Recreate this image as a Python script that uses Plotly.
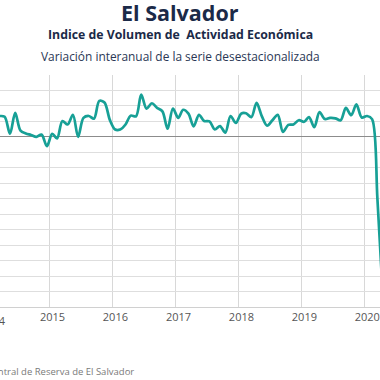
import pandas as pd
import plotly.graph_objects as go

# Monthly dates (Mar 2014 .. May 2020)
months = pd.date_range("2014-03-01", "2020-05-01", freq="MS")

# Year-over-year variation (%) of the seasonally adjusted IVAE
values = [
    2.7, 2.7, 2.6, 0.4, 3.1, 0.8, 0.45, 0.25, 0.0, 0.3,                 # 2014 Mar-Dec
    -1.2, 0.4, -0.2, 2.05, 1.6, 2.85, 0.0, 2.45, 2.7, 2.35, 4.65, 4.45,  # 2015
    2.2, 0.95, 0.95, 1.6, 2.75, 2.65, 5.45, 3.65, 4.35, 3.75, 3.3, 1.05, # 2016
    3.65, 2.45, 3.5, 3.0, 1.35, 2.85, 2.05, 2.0, 0.95, 1.4, 0.55, 2.7,   # 2017
    1.8, 3.0, 3.05, 2.55, 4.4, 2.65, 1.45, 2.15, 2.85, 0.65, 1.55, 1.6,  # 2018
    2.15, 1.95, 2.55, 1.25, 3.2, 2.3, 2.45, 2.4, 2.15, 3.75, 2.8, 4.2,   # 2019
    2.5, 2.7, 2.3, -8.0, -20.0,                                          # 2020 Jan-May
]

year_ticks = ["2015-01-16", "2016-01-16", "2017-01-16", "2018-01-16", "2019-01-16", "2020-01-16"]
year_labels = ["2015", "2016", "2017", "2018", "2019", "2020"]

title = "El Salvador"
subtitle = "Indice de Volumen de  Actividad Económica"
subtitle2 = "Variación interanual de la serie desestacionalizada"
source = "Fuente: Banco Central de Reserva de El Salvador"

FONT = "Open Sans"
W, H = 380, 380
TOP, BOTTOM = 75, 307          # plot area in pixels
PH = BOTTOM - TOP


def py(pix):
    """pixel row -> paper y"""
    return (BOTTOM - pix) / PH


fig = go.Figure()
fig.add_trace(go.Scatter(
    x=months, y=values, mode="lines",
    line=dict(color="#17a096", width=2.7, shape="spline", smoothing=0.9),
    hoverinfo="skip", showlegend=False,
))

fig.update_layout(
    width=W, height=H,
    margin=dict(l=0, r=0, t=TOP, b=H - BOTTOM, autoexpand=False),
    paper_bgcolor="white", plot_bgcolor="white",
    font=dict(family=FONT, color="#555555"),
    xaxis=dict(
        type="date", automargin=False,
        range=["2014-04-04", "2020-04-16"],
        tickvals=year_ticks, ticktext=year_labels,
        ticklabelshift=3, ticklabeloverflow="allow",
        showgrid=True, gridcolor="#d8d8d8", gridwidth=1,
        showline=True, linecolor="#d0d0d0", linewidth=1,
        ticks="", tickfont=dict(size=11, color="#555555", family=FONT),
        zeroline=False, fixedrange=True,
    ),
    yaxis=dict(
        automargin=False,
        range=[-22, 8], dtick=2, tick0=0,
        showgrid=True, gridcolor="#dedede", gridwidth=1,
        zeroline=True, zerolinecolor="#8c8c8c", zerolinewidth=1,
        showticklabels=False, ticks="", showline=False, fixedrange=True,
    ),
)

anns = [
    dict(text=title, y=py(12), font=dict(size=21.5, color="#1b2a48", family=FONT, weight="bold")),
    dict(text=subtitle, y=py(34), font=dict(size=12.3, color="#1b2a48", family=FONT, weight="bold")),
    dict(text=subtitle2, y=py(56), font=dict(size=11.9, color="#2a3855", family=FONT)),
]
for a in anns:
    fig.add_annotation(xref="paper", yref="paper", x=180 / W, showarrow=False,
                       xanchor="center", yanchor="middle", **a)

# partially visible 2014 label and source line (cut by the left edge)
fig.add_annotation(text="2014", xref="paper", yref="paper", x=-7 / W, y=py(320),
                   xanchor="center", yanchor="middle", showarrow=False,
                   font=dict(size=11, color="#555555", family=FONT))
fig.add_annotation(text=source, xref="paper", yref="paper", x=136 / W, y=py(371),
                   xanchor="right", yanchor="middle", showarrow=False,
                   font=dict(size=9.5, color="#7a7a7a", family=FONT))

fig.write_html(
    "out.html",
    config={"displayModeBar": False},
    post_script="document.body.style.margin='0';document.body.style.overflow='hidden';",
)
